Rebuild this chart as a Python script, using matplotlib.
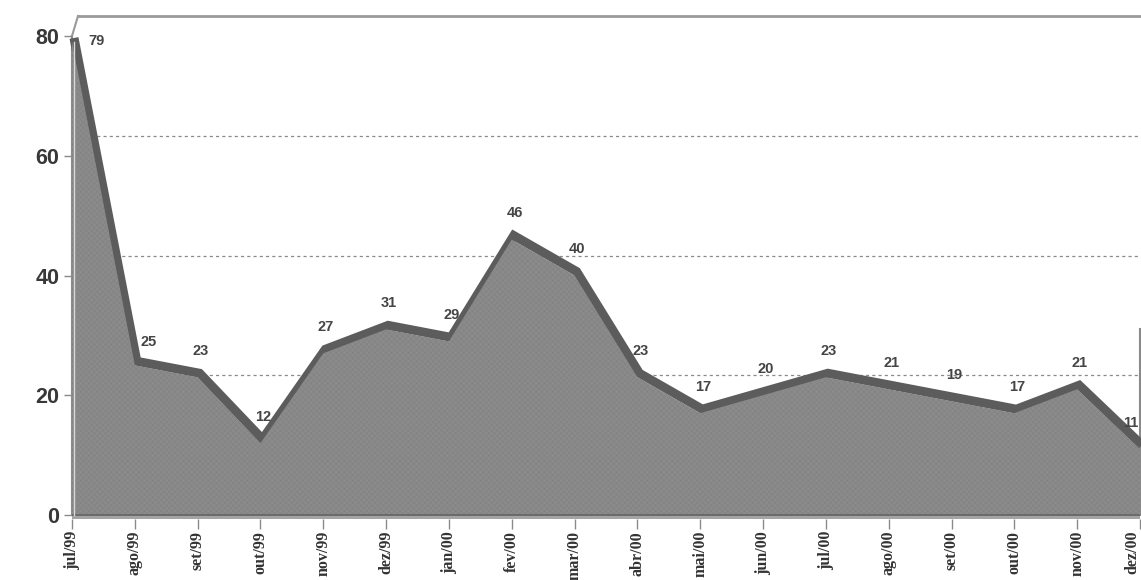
import matplotlib
matplotlib.use("Agg")
import matplotlib.pyplot as plt
import matplotlib.transforms as mtransforms
import numpy as np

months = ["jul/99", "ago/99", "set/99", "out/99", "nov/99", "dez/99",
          "jan/00", "fev/00", "mar/00", "abr/00", "mai/00", "jun/00",
          "jul/00", "ago/00", "set/00", "out/00", "nov/00", "dez/00"]
values = [79, 25, 23, 12, 27, 31, 29, 46, 40, 23, 17, 20, 23, 21, 19, 17, 21, 11]
yticks = [0, 20, 40, 60, 80]

plt.rcParams["hatch.color"] = "#7f7f7f"
plt.rcParams["hatch.linewidth"] = 0.35

W, H, DPI = 1141, 580, 100
fig = plt.figure(figsize=(W / DPI, H / DPI), dpi=DPI)
fig.patch.set_facecolor("white")

# axes placement in pixels: 0 at y=515, 80 at y=36
px_per_unit = (515 - 36) / 80
ybot = -0.7
left_px, right_px = 72, 1140
bottom_px = 515 + (0 - ybot) * px_per_unit
top_px = 36
ax = fig.add_axes([left_px / W, 1 - bottom_px / H,
                   (right_px - left_px) / W, (bottom_px - top_px) / H])
ax.set_xlim(0, len(values) - 1)
ax.set_ylim(ybot, 80)
ax.set_facecolor("none")

x = np.arange(len(values))
vals = np.array(values, dtype=float)
last = len(values) - 1

def shifted(dx_px, dy_px):
    return ax.transData + mtransforms.Affine2D().translate(dx_px, dy_px)

# back wall: gridlines and top edge, pushed into depth
back = shifted(6, 20)
for g in yticks[1:-1]:
    ax.plot([0, last], [g, g], transform=back, color="#8a8a8a",
            lw=0.9, ls=(0, (2.5, 2.5)), zorder=1, clip_on=False)
ax.plot([0, last], [80, 80], transform=back, color="#9a9a9a",
        lw=2.0, zorder=1, clip_on=False)
# left wall edge and its link to the back top edge
ax.plot([0, 0], [0, 80], color="#8a8a8a", lw=1.5, zorder=1, clip_on=False)
p0 = ax.transData.transform((0, 80))
p1 = back.transform((0, 80))
ax.plot([p0[0], p1[0]], [p0[1], p1[1]], transform=None, color="#9a9a9a",
        lw=1.5, zorder=1, clip_on=False)
# right edge line
ax.plot([last, last], [0, 31], color="#8a8a8a", lw=1.5,
        zorder=1, clip_on=False)

# top face of the extruded area
ax.plot(x, vals, transform=shifted(2, 4), color="#5c5c5c", lw=6.5,
        solid_joinstyle="miter", solid_capstyle="butt", zorder=2,
        clip_on=False)

# front face
ax.fill_between(x, 0, vals, facecolor="#8b8b8b", edgecolor="#808080",
                hatch="xxxxxx", lw=0, zorder=3)

# floor band under the area
ax.fill_between([0, last], ybot, 0, facecolor="#a4a4a4", lw=0, zorder=3)
ax.plot([0, last], [0, 0], color="#6a6a6a", lw=1.4, zorder=4)
# light edge on the left face
ax.plot([0, 0], [0, values[0]], transform=shifted(2, 0), color="#d8d8d8",
        lw=1.0, zorder=4)

# value labels
for i, v in enumerate(values):
    if i == 0:
        off, ha = (12, -4), "left"
    elif i == 1:
        off, ha = (10, 12), "center"
    elif i == last:
        off, ha = (-1, 14), "right"
    else:
        off, ha = (2, 14), "center"
    ax.annotate(str(v), (x[i], v), xytext=off, textcoords="offset points",
                ha=ha, va="bottom", fontsize=10.5, fontweight="bold",
                color="#454545", family="Liberation Sans", zorder=6,
                annotation_clip=False)

for s in ax.spines.values():
    s.set_visible(False)

ax.set_yticks(yticks)
ax.set_yticklabels([str(t) for t in yticks], fontsize=15.5, fontweight="bold",
                   color="#383838", family="Liberation Sans")
ax.tick_params(axis="y", length=6, width=1, color="#8a8a8a", pad=3)

ax.set_xticks(x)
ax.set_xticklabels(months, rotation=90, fontsize=11.5, fontweight="bold",
                   color="#333333", family="Liberation Serif", va="top")
ax.tick_params(axis="x", length=7, width=1, color="#8a8a8a", pad=1.5)
ax.get_xticklabels()[last].set_ha("right")

fig.savefig("out.png", dpi=DPI, facecolor="white")
